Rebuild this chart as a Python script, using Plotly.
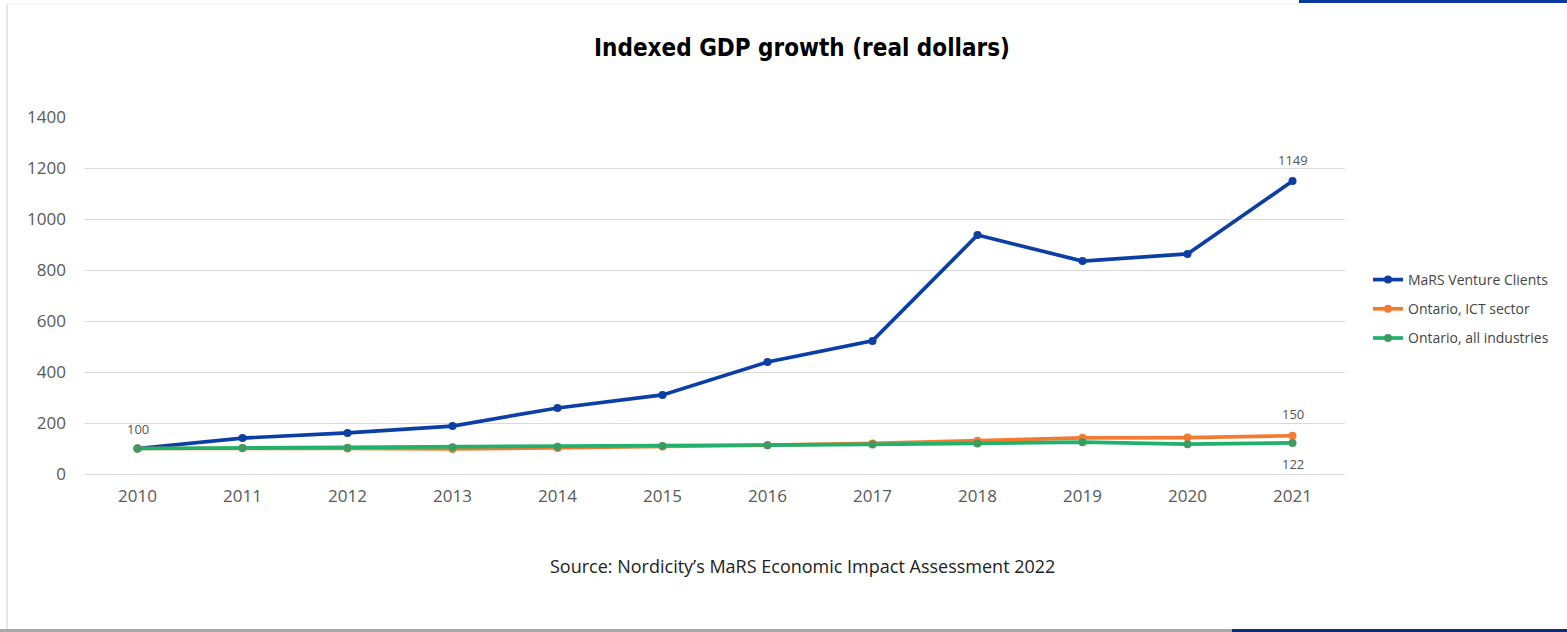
import plotly.graph_objects as go

years = ["2010", "2011", "2012", "2013", "2014", "2015", "2016", "2017", "2018", "2019", "2020", "2021"]
mars = [100, 141, 161, 188, 259, 310, 439, 522, 937, 835, 863, 1149]
ict = [100, 101, 100, 98, 102, 108, 113, 120, 130, 142, 143, 150]
allind = [100, 102, 103, 105, 107, 110, 113, 116, 120, 125, 117, 122]
y_ticks = [0, 200, 400, 600, 800, 1000, 1200, 1400]

W, H = 1567, 632
L, R, T, B = 85, 222, 117, 158
pw, ph = W - L - R, H - T - B

def px(x):
    return (x - L) / pw

def py(y):
    return (H - B - y) / ph

fig = go.Figure()
series = [
    ("MaRS Venture Clients", mars, "#0b3fa6", "#0b3fa6"),
    ("Ontario, ICT sector", ict, "#f47a2f", "#f47a2f"),
    ("Ontario, all industries", allind, "#20b26c", "#3f9a62"),
]
for name, vals, lc, mc in series:
    fig.add_trace(go.Scatter(
        x=years, y=vals, name=name, mode="lines+markers", legendgroup=name,
        line=dict(color=lc, width=3.7),
        marker=dict(color=mc, size=8),
    ))

ann_font = dict(family="Open Sans, Noto Sans, sans-serif", size=13, color="#555555")
last = len(years) - 1
annotations = [
    dict(x=0, y=mars[0], text=str(mars[0]), xref="x", yref="y", showarrow=False, yshift=20, font=ann_font),
    dict(x=last, y=mars[-1], text=str(mars[-1]), xref="x", yref="y", showarrow=False, yshift=21, font=ann_font),
    dict(x=last, y=ict[-1], text=str(ict[-1]), xref="x", yref="y", showarrow=False, yshift=22, font=ann_font),
    dict(x=last, y=allind[-1], text=str(allind[-1]), xref="x", yref="y", showarrow=False, yshift=-21, font=ann_font),
    dict(x=px(802), y=py(566), xref="paper", yref="paper", showarrow=False, xanchor="center", yanchor="middle",
         text="Source: Nordicity\u2019s MaRS Economic Impact Assessment 2022",
         font=dict(family="Open Sans, Noto Sans, sans-serif", size=18, color="#222222")),
]

shapes = [
    dict(type="rect", xref="paper", yref="paper", x0=px(1299), x1=px(1567), y0=py(3), y1=py(0),
         fillcolor="#0a3a9e", line=dict(width=0), layer="above"),
    dict(type="rect", xref="paper", yref="paper", x0=px(1232), x1=px(1567), y0=py(632), y1=py(629),
         fillcolor="#0a2d78", line=dict(width=0), layer="above"),
    dict(type="rect", xref="paper", yref="paper", x0=px(0), x1=px(1232), y0=py(632), y1=py(629),
         fillcolor="#a8a8a8", line=dict(width=0), layer="above"),
    dict(type="line", xref="paper", yref="paper", x0=px(7), x1=px(7), y0=py(629), y1=py(4),
         line=dict(color="#e6e6e6", width=2)),
    dict(type="line", xref="paper", yref="paper", x0=px(7), x1=px(1299), y0=py(4), y1=py(4),
         line=dict(color="#eeeeee", width=1)),
]

fig.update_layout(
    width=W, height=H,
    margin=dict(l=L, r=R, t=T, b=B),
    paper_bgcolor="white", plot_bgcolor="white",
    title=dict(text="<b>Indexed GDP growth (real dollars)</b>", x=802 / W, xref="container", xanchor="center",
               y=1 - 48 / H, yanchor="middle",
               font=dict(family="DejaVu Sans Condensed, Liberation Sans Narrow, sans-serif", size=24, color="#000000")),
    legend=dict(x=px(1368), y=py(264), xanchor="left", yanchor="top", xref="paper", yref="paper",
                font=dict(family="Open Sans, Noto Sans, sans-serif", size=14, color="#444444"),
                tracegroupgap=8, itemwidth=30, bgcolor="rgba(0,0,0,0)"),
    annotations=annotations,
    shapes=shapes,
    showlegend=True,
)
fig.update_xaxes(type="category", range=[-0.5, last + 0.5], showgrid=False, showline=False, zeroline=False, ticks="",
                 tickfont=dict(family="Open Sans, Noto Sans, sans-serif", size=17, color="#595959"),
                 ticklabelstandoff=10)
fig.update_yaxes(range=[0, 1400], tickvals=y_ticks, showgrid=True, gridcolor="#d9d9d9", gridwidth=1,
                 zeroline=True, zerolinecolor="#d9d9d9", zerolinewidth=1, showline=False, ticks="",
                 tickfont=dict(family="Open Sans, Noto Sans, sans-serif", size=17, color="#595959"),
                 ticklabelstandoff=18)

fig.write_html("out.html")
